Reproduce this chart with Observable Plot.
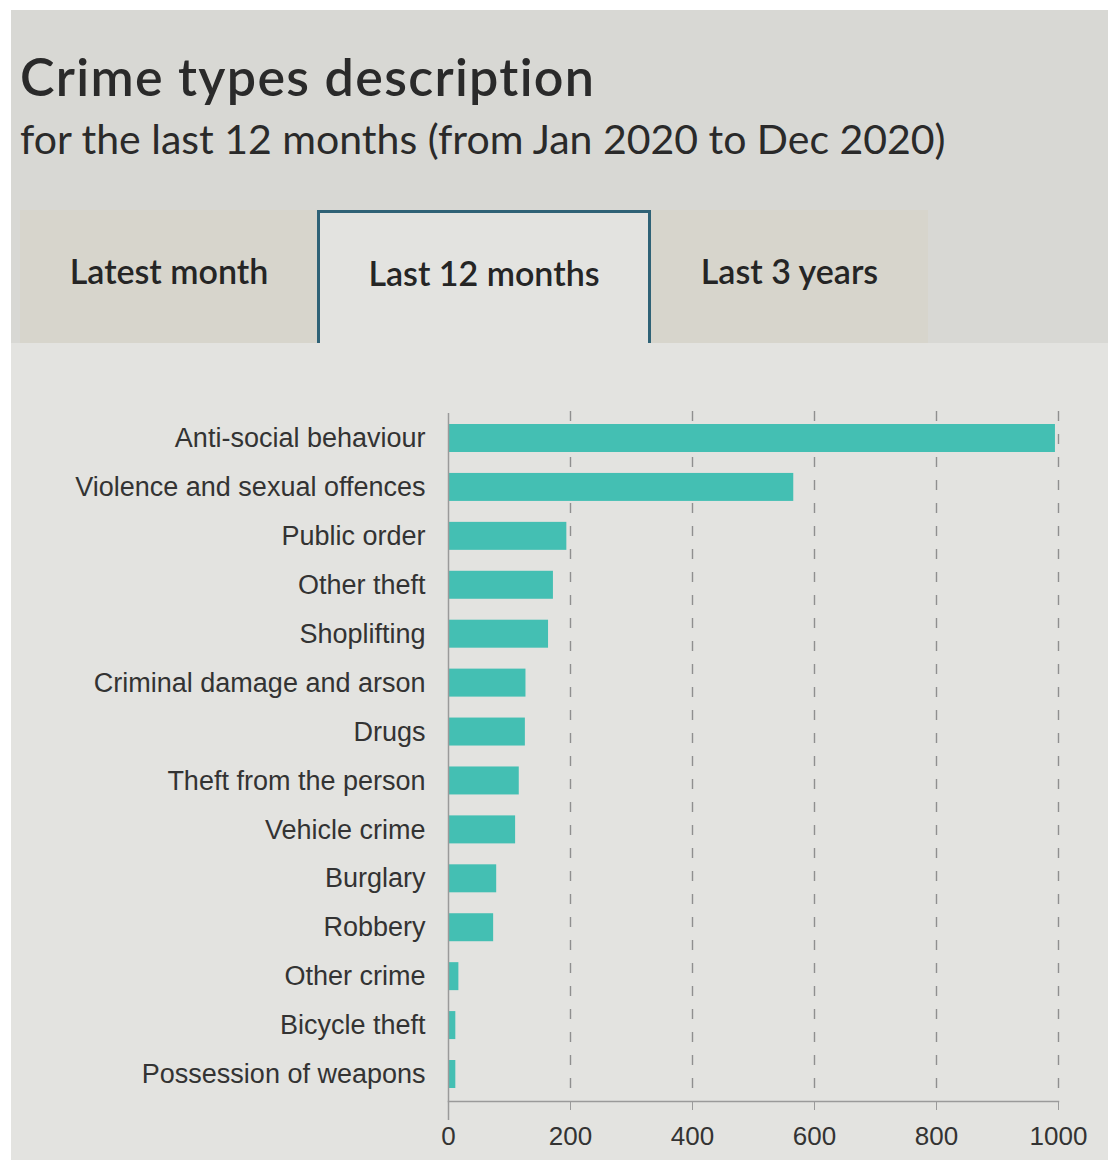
<!DOCTYPE html>
<html>
<head>
<meta charset="utf-8">
<script src="https://cdn.jsdelivr.net/npm/d3@7"></script>
<script src="https://cdn.jsdelivr.net/npm/@observablehq/plot@0.6"></script>
<style>
  body { margin: 0; background: #ffffff; width: 1108px; height: 1163px; position: relative; overflow: hidden; }
  #panel { position: absolute; left: 11px; top: 10px; width: 1097px; height: 1150px; background: #d8d8d4; }
  #content { position: absolute; left: 11px; top: 343px; width: 1097px; height: 817px; background: #e3e3e0; }
  #title { position: absolute; left: 20px; top: 50px; font-family: Lato, sans-serif; font-weight: 600; font-size: 52px; line-height: 52px; letter-spacing: 1.3px; color: #2a2a2a; white-space: nowrap; }
  #subtitle { position: absolute; left: 20px; top: 118px; font-family: Lato, sans-serif; font-weight: 400; font-size: 41px; line-height: 41px; color: #2a2a2a; white-space: nowrap; }
  .tab { position: absolute; top: 210px; height: 133px; display: flex; align-items: center; justify-content: center; font-family: Lato, sans-serif; font-weight: 600; font-size: 34px; color: #252525; box-sizing: border-box; padding-bottom: 12px; }
  .inactive { background: #d7d5cc; }
  .active { background: #e3e3e0; border-top: 3px solid #2f6276; border-left: 3px solid #2f6276; border-right: 3px solid #2f6276; }
  #chart { position: absolute; left: 0; top: 343px; }
</style>
</head>
<body>
<div id="panel"></div>
<div id="content"></div>
<div id="title">Crime types description</div>
<div id="subtitle">for the last 12 months (from Jan 2020 to Dec 2020)</div>
<div class="tab inactive" style="left:20px;width:298px;">Latest month</div>
<div class="tab active" style="left:317px;width:334px;">Last 12 months</div>
<div class="tab inactive" style="left:651px;width:277px;">Last 3 years</div>
<div id="chart"></div>
<script>
const crimes = [
  "Anti-social behaviour",
  "Violence and sexual offences",
  "Public order",
  "Other theft",
  "Shoplifting",
  "Criminal damage and arson",
  "Drugs",
  "Theft from the person",
  "Vehicle crime",
  "Burglary",
  "Robbery",
  "Other crime",
  "Bicycle theft",
  "Possession of weapons"
];
const counts = [995, 566, 194, 172, 164, 127, 126, 116, 110, 79, 74, 17, 12, 12];
const xTicks = [0, 200, 400, 600, 800, 1000];

const data = crimes.map((c, i) => ({crime: c, value: counts[i]}));

const chart = Plot.plot({
  width: 1108,
  height: 810,
  marginTop: 68,
  marginBottom: 52,
  marginLeft: 448,
  marginRight: 50,
  style: {fontFamily: "'Liberation Sans', Arial, sans-serif", fontSize: "27px", color: "#333", background: "transparent"},
  x: {domain: [0, 1000], ticks: xTicks, tickFormat: d => String(d)},
  y: {domain: crimes, paddingInner: 0.428, paddingOuter: 0.266, round: false},
  marks: [
    Plot.gridX(xTicks.slice(1), {stroke: "#8f8f8f", strokeOpacity: 1, strokeWidth: 1.4, strokeDasharray: "10,13"}),
    Plot.barX(data, {x: "value", y: "crime", fill: "#44bfb3"}),
    Plot.frame({anchor: "bottom", stroke: "#9a9a9a", strokeWidth: 1.5}),
    Plot.ruleX([0], {stroke: "#9a9a9a", strokeWidth: 1.5, insetBottom: -19, insetTop: 2}),
    Plot.axisX({ticks: xTicks, tickFormat: d => String(d), tickSize: 9, tickPadding: 16, stroke: "#9a9a9a", fill: "#333", fontSize: 26, label: null}),
    Plot.axisY({tickSize: 0, tickPadding: 23, fill: "#333", fontSize: 27, label: null})
  ]
});
document.getElementById("chart").appendChild(chart);
</script>
</body>
</html>
